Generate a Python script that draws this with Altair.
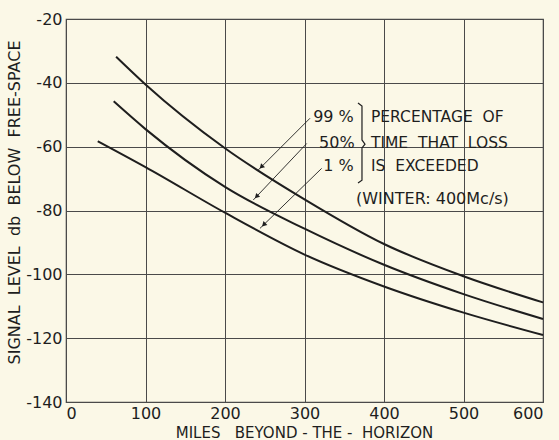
import altair as alt
import pandas as pd

# ---- data ----
x_ticks = [0, 100, 200, 300, 400, 500, 600]
y_ticks = [-140, -120, -100, -80, -60, -40, -20]

miles_99 = [63, 100, 200, 300, 400, 500, 600]
level_99 = [-31.8, -40.5, -60.5, -76.5, -90.5, -100.6, -108.8]
miles_50 = [60, 100, 200, 300, 400, 500, 600]
level_50 = [-45.8, -54.5, -72.6, -85.7, -97.0, -106.2, -114.0]
miles_1 = [40, 100, 200, 300, 400, 500, 600]
level_1 = [-58.3, -66.4, -80.7, -93.8, -103.8, -112.0, -119.0]

pct_labels = ["99\u00a0%", "50%", "1\u00a0%"]
pct_x = [362, 363, 362]
pct_y = [-50.7, -58.9, -66.1]

note_lines = ["PERCENTAGE\u00a0\u00a0OF", "TIME\u00a0\u00a0THAT\u00a0\u00a0LOSS", "IS\u00a0\u00a0EXCEEDED"]
note_x = [383.6, 383.6, 383.6]
note_y = [-50.7, -58.9, -66.1]

winter_text = ["(WINTER:\u00a0400Mc/s)"]
winter_x = [364.8]
winter_y = [-76.4]

# arrows: start (near label) -> tip (on curve)
arrow_x = [306.9, 302.8, 321.6]
arrow_y = [-51.1, -59.0, -66.8]
arrow_x2 = [241.9, 235.6, 244.0]
arrow_y2 = [-67.3, -76.7, -85.6]

# brace between the percentages and the note
brace_x = [367.3, 372.3, 372.3, 376.1, 372.3, 372.3, 367.3]
brace_y = [-46.3, -47.3, -57.9, -59.2, -60.4, -70.5, -71.4]

FONT = "DejaVu Sans"
INK = "#1e1e1e"
GRID = "#4a4a4a"
BG = "#fbf8e7"

curves = pd.DataFrame(
    {"miles": miles_99 + miles_50 + miles_1,
     "level": level_99 + level_50 + level_1,
     "series": ["99%"] * len(miles_99) + ["50%"] * len(miles_50) + ["1%"] * len(miles_1)}
)

xs = alt.Scale(domain=[0, 600], nice=False, zero=False)
ys = alt.Scale(domain=[-140, -20], nice=False, zero=False)

x_axis = alt.Axis(
    values=x_ticks, grid=True, gridColor=GRID, gridWidth=1, gridOpacity=1,
    domain=False, ticks=False, labelPadding=3, labelFont=FONT, labelFontSize=16,
    labelColor=INK, labelExpr="'' + datum.value",
    title="MILES\u00a0\u00a0\u00a0BEYOND\u00a0-\u00a0THE\u00a0-\u00a0\u00a0HORIZON",
    titleFont=FONT, titleFontSize=15, titleFontWeight="normal", titleColor=INK,
    titleX=238, titleY=23, titleBaseline="top", titleAlign="center",
)
y_axis = alt.Axis(
    values=y_ticks, grid=True, gridColor=GRID, gridWidth=1, gridOpacity=1,
    domain=False, ticks=False, labelPadding=4, labelFont=FONT, labelFontSize=16,
    labelColor=INK, labelExpr="'' + datum.value",
    title="SIGNAL\u00a0\u00a0LEVEL\u00a0\u00a0db\u00a0\u00a0BELOW\u00a0\u00a0FREE-SPACE",
    titleFont=FONT, titleFontSize=16, titleFontWeight="normal", titleColor=INK,
    titleX=-52, titleY=183, titleAngle=-90, titleAlign="center", titleBaseline="middle",
)

lines = alt.Chart(curves).mark_line(color=INK, strokeWidth=2, interpolate="monotone").encode(
    x=alt.X("miles:Q", scale=xs, axis=x_axis),
    y=alt.Y("level:Q", scale=ys, axis=y_axis),
    detail="series:N",
)

pct_df = pd.DataFrame({"x": pct_x, "y": pct_y, "t": pct_labels})
pct = alt.Chart(pct_df).mark_text(align="right", baseline="middle", font=FONT, fontSize=16, color=INK).encode(
    x=alt.X("x:Q", scale=xs), y=alt.Y("y:Q", scale=ys), text="t:N")

note_df = pd.DataFrame({"x": note_x, "y": note_y, "t": note_lines})
note = alt.Chart(note_df).mark_text(align="left", baseline="middle", font=FONT, fontSize=15.5, color=INK).encode(
    x=alt.X("x:Q", scale=xs), y=alt.Y("y:Q", scale=ys), text="t:N")

win_df = pd.DataFrame({"x": winter_x, "y": winter_y, "t": winter_text})
win = alt.Chart(win_df).mark_text(align="left", baseline="middle", font=FONT, fontSize=16, color=INK).encode(
    x=alt.X("x:Q", scale=xs), y=alt.Y("y:Q", scale=ys), text="t:N")

arr_df = pd.DataFrame({"x": arrow_x, "y": arrow_y, "x2": arrow_x2, "y2": arrow_y2})
arr_df["hx"] = arr_df["x2"] + 0.07 * (arr_df["x"] - arr_df["x2"])
arr_df["hy"] = arr_df["y2"] + 0.07 * (arr_df["y"] - arr_df["y2"])
arrows = alt.Chart(arr_df).mark_rule(color=INK, strokeWidth=0.9).encode(
    x=alt.X("x:Q", scale=xs), y=alt.Y("y:Q", scale=ys), x2="x2:Q", y2="y2:Q")
heads = alt.Chart(arr_df).mark_point(shape="triangle", angle=225, filled=True, size=30, color=INK, opacity=1).encode(
    x=alt.X("hx:Q", scale=xs), y=alt.Y("hy:Q", scale=ys))

brace_df = pd.DataFrame({"x": brace_x, "y": brace_y, "o": list(range(len(brace_x)))})
brace = alt.Chart(brace_df).mark_line(color=INK, strokeWidth=1.2).encode(
    x=alt.X("x:Q", scale=xs), y=alt.Y("y:Q", scale=ys), order="o:Q")

chart = alt.layer(lines, arrows, heads, brace, pct, note, win).properties(
    width=477, height=383,
    padding={"left": 66, "top": 19, "right": 16, "bottom": 38},
    autosize="none", background=BG,
).configure_view(stroke=GRID, strokeWidth=1.2)

chart.save("out.html", embed_options={"renderer": "svg", "actions": False})
